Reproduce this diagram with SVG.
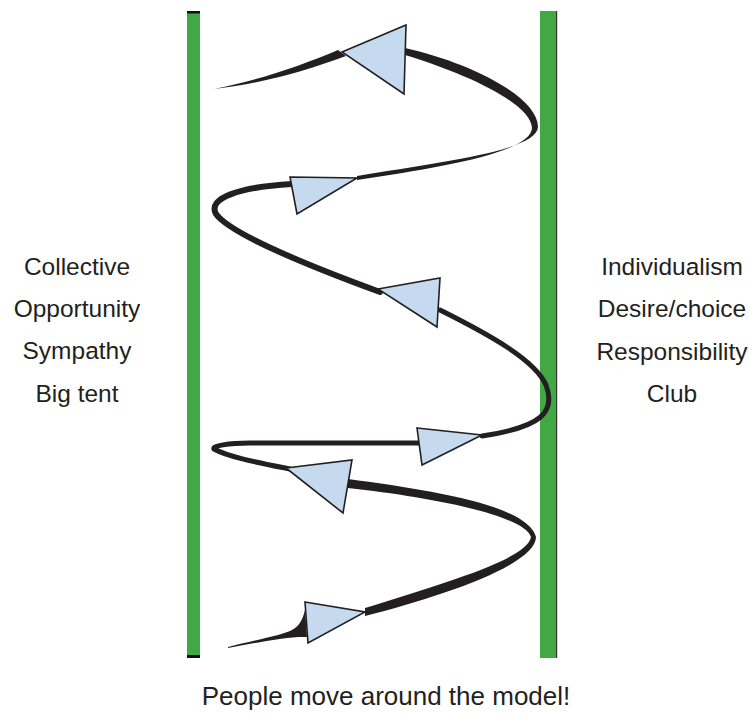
<svg xmlns="http://www.w3.org/2000/svg" width="749" height="713" viewBox="0 0 749 713">
<style>
.bar{fill:#42a843}
.cap{fill:#111}
.rib{fill:none;stroke:#231f20;stroke-linecap:round;stroke-linejoin:round}
.solid{fill:#231f20;stroke:none}
.tri{fill:#c5daef;stroke:#231f20;stroke-width:1.6;stroke-linejoin:miter}
.lbl{font-family:"Liberation Sans",Arial,sans-serif;font-size:24.5px;fill:#231f20;text-anchor:middle}
.cap-text{font-size:26px}
</style>
<rect width="749" height="713" fill="#fff"/>
<g id="left-bar">
<rect class="bar" x="187" y="11" width="13" height="647"/>
<rect class="cap" x="187" y="11" width="13" height="2.5"/>
<rect class="cap" x="187" y="655" width="13" height="3"/>
</g>
<g id="right-bar">
<rect class="bar" x="540" y="11" width="16" height="647"/>
<rect fill="#333" x="556" y="11" width="1.2" height="647"/>
</g>
<g id="connectors">
<path class="solid" d="M214,89 C260,80 300,66 338,50 L346,56 C305,71 265,83 214,89 Z"/>
<path class="solid" d="M405,48 C468,62 538,96 538,127 C537,151 440,162 357,176 L357,180 C445,167 531,152 532,128 C531,104 468,74 405,55 Z"/>
<path class="rib" stroke-width="6" d="M292,184 C240,187 207,198 216,214 C232,236 320,270 380,292"/>
<path class="rib" stroke-width="5" d="M440,310 C490,335 535,360 546,385 C556,412 542,427 482,436"/>
<path class="rib" stroke-width="5" d="M420,443 L250,443 C228,443 212,446 214,449 C228,457 260,463 290,469"/>
<path class="solid" d="M348,479 C430,490 528,505 536,537 C536,565 440,597 365,616 L365,608 C440,584 527,560 531,537 C524,515 430,497 348,488 Z"/>
<path class="solid" d="M228,647 C250,641 280,636 292,630 C300,626 303,618 305,610 L307,637 C290,636 260,642 228,648 Z"/>
</g>
<g id="arrow-1"><polygon class="tri" points="342,52 406,25 404,94"/></g>
<g id="arrow-2"><polygon class="tri" points="290,177 357,178 297,214"/></g>
<g id="arrow-3"><polygon class="tri" points="378,289 440,278 437,327"/></g>
<g id="arrow-4"><polygon class="tri" points="417,428 482,435 422,465"/></g>
<g id="arrow-5"><polygon class="tri" points="286,468 352,460 343,513"/></g>
<g id="arrow-6"><polygon class="tri" points="305,602 365,612 308,643"/></g>
<g id="left-labels">
<text class="lbl" x="77" y="275">Collective</text>
<text class="lbl" x="77" y="317">Opportunity</text>
<text class="lbl" x="77" y="359">Sympathy</text>
<text class="lbl" x="77" y="402">Big tent</text>
</g>
<g id="right-labels">
<text class="lbl" x="672" y="275">Individualism</text>
<text class="lbl" x="672" y="317">Desire/choice</text>
<text class="lbl" x="672" y="360">Responsibility</text>
<text class="lbl" x="672" y="402">Club</text>
</g>
<g id="caption">
<text class="lbl cap-text" x="386" y="705">People move around the model!</text>
</g>
</svg>
